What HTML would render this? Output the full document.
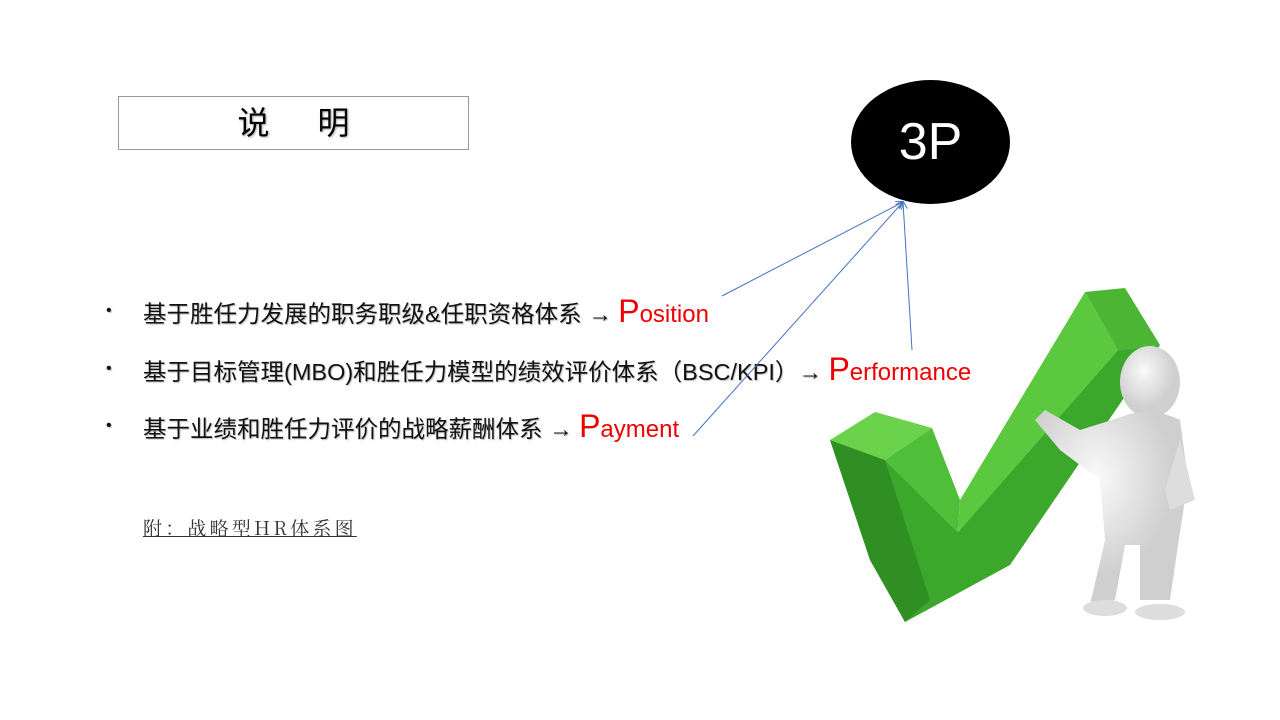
<!DOCTYPE html>
<html><head><meta charset="utf-8"><style>
body{margin:0;width:1280px;height:720px;background:#fff;position:relative;overflow:hidden;font-family:"Liberation Sans","Noto Sans CJK SC",sans-serif}
.t{position:absolute;left:118px;top:96px;width:351px;height:54px;border:1px solid #999;box-sizing:border-box;text-align:center;font-size:32px;line-height:52px;letter-spacing:48px;text-shadow:1px 1px 2px #aaa;padding-left:48px}
.b{position:absolute;left:106px;font-size:23.5px;line-height:30px;color:#111;text-shadow:1px 1px 1px #bbb;white-space:nowrap}
.b i{font-style:normal;position:absolute;left:0;font-size:16px}
.b span.x{margin-left:37px}
.r{color:#e00;font-size:24px;text-shadow:none}
.r b{font-weight:normal;font-size:32px}
.circ{position:absolute;left:851px;top:80px;width:159px;height:124px;border-radius:50%;background:#000;color:#fff;font-size:52px;text-align:center;line-height:124px}
.f{position:absolute;left:143px;top:514px;font-family:"Noto Serif CJK SC",serif;font-size:19px;color:#333;text-decoration:underline;letter-spacing:3.2px}
</style></head><body>
<div class="t">说明</div>
<div class="circ">3P</div>
<div class="b" style="top:296px"><i>•</i><span class="x">基于胜任力发展的职务职级&amp;任职资格体系 → </span><span class="r"><b>P</b>osition</span></div>
<div class="b" style="top:354px"><i>•</i><span class="x">基于目标管理(MBO)和胜任力模型的绩效评价体系（BSC/KPI）→ </span><span class="r"><b>P</b>erformance</span></div>
<div class="b" style="top:411px"><i>•</i><span class="x">基于业绩和胜任力评价的战略薪酬体系 → </span><span class="r"><b>P</b>ayment</span></div>
<div class="f">附：战略型HR体系图</div>
<svg width="1280" height="720" style="position:absolute;left:0;top:0">
<defs><marker id="a" markerWidth="8" markerHeight="8" refX="7" refY="4" orient="auto"><path d="M0,0 L8,4 L0,8" fill="none" stroke="#4472c4" stroke-width="1"/></marker>
<radialGradient id="g" cx="40%" cy="35%"><stop offset="0" stop-color="#fafafa"/><stop offset="1" stop-color="#cfcfcf"/></radialGradient></defs>
<g stroke="#4472c4" stroke-width="1" fill="none">
<line x1="722" y1="296" x2="903" y2="202" marker-end="url(#a)"/>
<line x1="912" y1="350" x2="903" y2="202" marker-end="url(#a)"/>
<line x1="693" y1="436" x2="903" y2="202" marker-end="url(#a)"/>
</g>
<polygon points="830,440 885,460 958,532 1118,350 1160,345 1010,565 905,622 870,560" fill="#3ba82b"/>
<polygon points="830,440 885,460 930,600 905,622 870,560" fill="#2f8f22"/>
<polygon points="830,440 875,412 932,428 885,460" fill="#6bd24c"/>
<polygon points="885,460 932,428 960,500 958,532" fill="#4fbe38"/>
<polygon points="958,532 960,500 1085,292 1118,350" fill="#5cc840"/>
<polygon points="1085,292 1125,288 1160,345 1118,350" fill="#4cb634"/>
<ellipse cx="1150" cy="382" rx="30" ry="36" fill="url(#g)"/>
<path d="M1118,418 Q1150,405 1180,420 L1188,480 L1178,545 L1170,600 L1140,600 L1140,545 L1125,545 L1115,600 L1090,605 L1105,540 L1100,480 L1060,450 L1035,420 L1045,410 L1080,430 Z" fill="url(#g)"/>
<path d="M1180,440 L1195,500 L1170,510 L1165,490 Z" fill="#ddd"/>
<ellipse cx="1160" cy="612" rx="25" ry="8" fill="#ddd"/>
<ellipse cx="1105" cy="608" rx="22" ry="8" fill="#ddd"/>
</svg>
</body></html>
